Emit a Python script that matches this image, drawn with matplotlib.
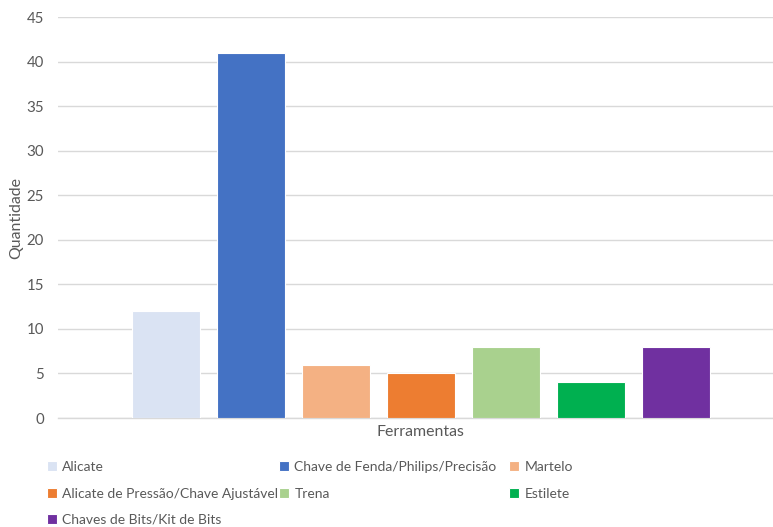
import matplotlib
matplotlib.use("Agg")
import matplotlib.pyplot as plt

plt.rcParams['font.family'] = ['Lato', 'DejaVu Sans']

ferramentas = [
    "Alicate",
    "Chave de Fenda/Philips/Precisão",
    "Martelo",
    "Alicate de Pressão/Chave Ajustável",
    "Trena",
    "Estilete",
    "Chaves de Bits/Kit de Bits",
]
quantidades = [12, 41, 6, 5, 8, 4, 8]
cores = ["#DAE3F3", "#4472C4", "#F4B183", "#ED7D31", "#A9D18E", "#00B050", "#7030A0"]
yticks = [0, 5, 10, 15, 20, 25, 30, 35, 40, 45]

W, H = 773, 527
fig = plt.figure(figsize=(W / 100, H / 100), dpi=100)
ax_left, ax_right, ax_top, ax_bottom = 58, 773, 17, 418
ax = fig.add_axes([ax_left / W, 1 - ax_bottom / H,
                   (ax_right - ax_left) / W, (ax_bottom - ax_top) / H])

text_gray = "#595959"
grid_gray = "#D9D9D9"

bars = []
for i, (nome, q, c) in enumerate(zip(ferramentas, quantidades, cores)):
    b = ax.bar(i, q, width=0.79, color=c, edgecolor="white", linewidth=0.8,
               label=nome, zorder=3)
    bars.append(b)

ax.set_xlim(-1.27, 7.14)
ax.set_ylim(0, 45)
ax.set_yticks(yticks)
ax.set_xticks([])
ax.yaxis.grid(True, color=grid_gray, linewidth=1.0, zorder=0)
for s in ["top", "right", "left"]:
    ax.spines[s].set_visible(False)
ax.spines["bottom"].set_color(grid_gray)
ax.spines["bottom"].set_linewidth(1.0)
ax.tick_params(axis="y", length=0, pad=10, labelsize=10.8, labelcolor=text_gray)

# axis titles
fig.text(16 / W, 1 - 218 / H, "Quantidade", rotation=90, ha="center", va="center",
         fontsize=11.4, color=text_gray)
fig.text(420 / W, 1 - 432 / H, "Ferramentas", ha="center", va="center",
         fontsize=11.4, color=text_gray)

# legend laid out row by row in three fixed-width columns
col_x = [47, 279, 509]
row_y = [467, 494, 520]
for k, (b, nome) in enumerate(zip(bars, ferramentas)):
    r, c = divmod(k, 3)
    fig.legend(handles=[b], labels=[nome], loc="center left",
               bbox_to_anchor=(col_x[c] / W, 1 - row_y[r] / H),
               frameon=False, fontsize=10, labelcolor=text_gray,
               handlelength=0.75, handleheight=0.75, handletextpad=0.35,
               borderpad=0, borderaxespad=0)

fig.savefig("out.png", dpi=100)
